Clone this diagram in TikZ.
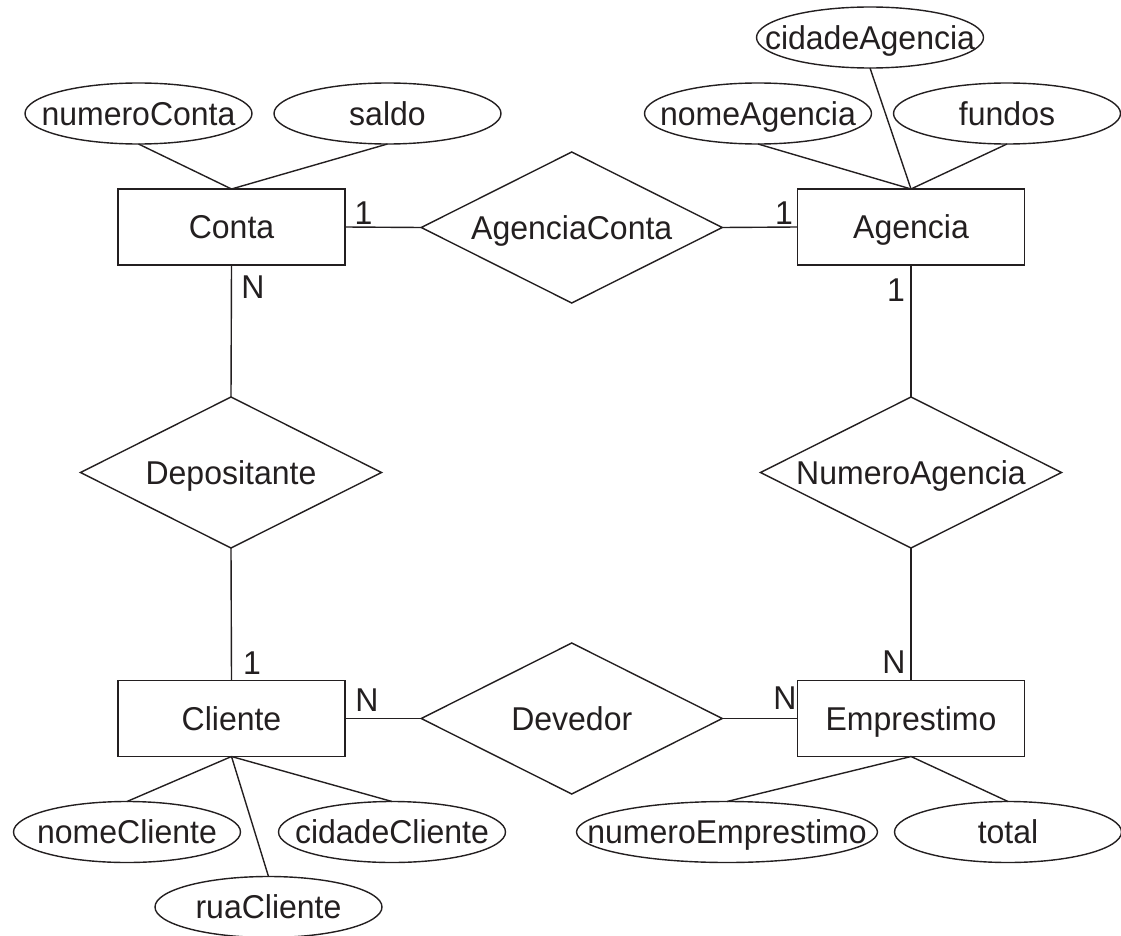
\documentclass[tikz,border=0pt]{standalone}
\usepackage{fontspec}
\setmainfont{Liberation Sans}[FakeStretch=0.97]
\usetikzlibrary{shapes.geometric}
\definecolor{ink}{RGB}{35,31,32}
\newcommand{\zt}[1]{\makebox[0pt]{#1}}
\begin{document}
\begin{tikzpicture}[x=1pt,y=-1pt,
  every node/.style={font=\fontsize{33}{39}\selectfont, text=ink, inner sep=0pt, outer sep=0pt, text height=23.6pt, text depth=0pt},
  ent/.style={draw=ink, line width=1.4pt, rectangle, minimum width=227pt, minimum height=76pt},
  rel/.style={draw=ink, line width=1.4pt, diamond, shape aspect=2, minimum width=301pt, minimum height=151pt},
  att/.style={draw=ink, line width=1.4pt, ellipse, minimum width=227pt, minimum height=61pt},
  lnk/.style={draw=ink, line width=1.4pt},
  card/.style={}]
\useasboundingbox (0,0) rectangle (1121,936);
% entities
\node[ent] (conta) at (231.5,227) {Conta};
\node[ent] (agencia) at (911,227) {Agencia};
\node[ent] (cliente) at (231.5,718.5) {Cliente};
\node[ent] (emp) at (911,718.5) {Emprestimo};
% relationships
\node[rel] (ac) at (571.75,227.5) {AgenciaConta};
\node[rel] (dep) at (231,472.5) {Depositante};
\node[rel] (na) at (911,472.5) {NumeroAgencia};
\node[rel] (dev) at (571.75,718.5) {Devedor};
% attributes
\node[att] (numeroConta) at (138.5,113.5) {\zt{numeroConta}};
\node[att] (saldo) at (387.5,113.5) {\zt{saldo}};
\node[att] (cidadeAgencia) at (870,37.5) {\zt{cidadeAgencia}};
\node[att] (nomeAgencia) at (758,113.5) {\zt{nomeAgencia}};
\node[att] (fundos) at (1007,113.5) {\zt{fundos}};
\node[att] (nomeCliente) at (127,832) {\zt{nomeCliente}};
\node[att] (cidadeCliente) at (392,832) {\zt{cidadeCliente}};
\node[att] (ruaCliente) at (268.5,907) {\zt{ruaCliente}};
\node[att, minimum width=301pt] (numeroEmprestimo) at (727,832) {\zt{numeroEmprestimo}};
\node[att] (total) at (1008,832) {\zt{total}};
% relationship links
\draw[lnk] (conta.east) -- (ac.west);
\draw[lnk] (ac.east) -- (agencia.west);
\draw[lnk] (conta.south) -- (dep.north);
\draw[lnk] (dep.south) -- (cliente.north);
\draw[lnk] (agencia.south) -- (na.north);
\draw[lnk] (na.south) -- (emp.north);
\draw[lnk] (cliente.east) -- (dev.west);
\draw[lnk] (dev.east) -- (emp.west);
% attribute links
\draw[lnk] (numeroConta.south) -- (conta.north);
\draw[lnk] (saldo.south) -- (conta.north);
\draw[lnk] (cidadeAgencia.south) -- (agencia.north);
\draw[lnk] (nomeAgencia.south) -- (agencia.north);
\draw[lnk] (fundos.south) -- (agencia.north);
\draw[lnk] (cliente.south) -- (nomeCliente.north);
\draw[lnk] (cliente.south) -- (cidadeCliente.north);
\draw[lnk] (cliente.south) -- (ruaCliente.north);
\draw[lnk] (emp.south) -- (numeroEmprestimo.north);
\draw[lnk] (emp.south) -- (total.north);
% cardinalities
\node[card] (c1) at (363.5,213) {1};
\node[card] (c2) at (784,213) {1};
\node[card] (c3) at (253,287) {N};
\node[card] (c4) at (896,290) {1};
\node[card] (c5) at (252,663) {1};
\node[card] (c6) at (367,700) {N};
\node[card] (c7) at (894,662) {N};
\node[card] (c8) at (785,698) {N};
\end{tikzpicture}
\end{document}
